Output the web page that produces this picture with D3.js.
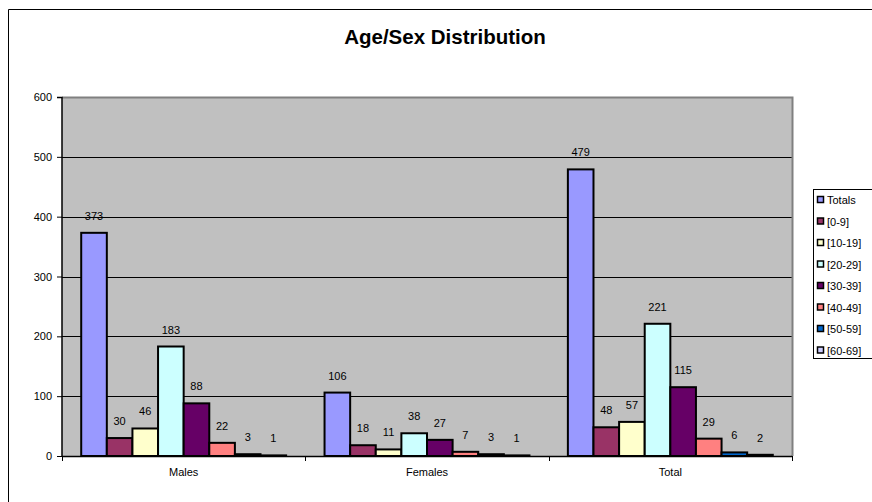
<!DOCTYPE html>
<html>
<head>
<meta charset="utf-8">
<script src="https://cdn.jsdelivr.net/npm/d3@7"></script>
<style>
  html, body { margin: 0; padding: 0; background: #fff; }
  svg { display: block; font-family: Arial, "Liberation Sans", sans-serif; }
</style>
</head>
<body>
<svg id="chart" width="872" height="502"></svg>
<script>
// Age groups by sex
const categories = ["Males", "Females", "Total"];
const seriesNames = ["Totals", "[0-9]", "[10-19]", "[20-29]", "[30-39]", "[40-49]", "[50-59]", "[60-69]"];
const malesValues   = [373, 30, 46, 183, 88, 22, 3, 1];
const femalesValues = [106, 18, 11, 38, 27, 7, 3, 1];
const totalValues   = [479, 48, 57, 221, 115, 29, 6, 2];
const yTicks = [0, 100, 200, 300, 400, 500, 600];
const seriesColors = ["#9999FF", "#993366", "#FFFFCC", "#CCFFFF", "#660066", "#FF8080", "#0066CC", "#CCCCFF"];

const valuesByCategory = [malesValues, femalesValues, totalValues];

const svg = d3.select("#chart");

// chart frame (top and left edges visible)
svg.append("path")
  .attr("d", "M8.5,502 V9.5 H872")
  .attr("fill", "none").attr("stroke", "#000").attr("stroke-width", 1);

// title
svg.append("text")
  .attr("x", 445).attr("y", 44)
  .attr("text-anchor", "middle")
  .attr("font-size", 20.5).attr("font-weight", "bold")
  .text("Age/Sex Distribution");

const plot = { left: 62, top: 97, right: 792, bottom: 456 };

const x0 = d3.scaleBand().domain(categories).range([plot.left, plot.right]).paddingInner(0).paddingOuter(0);
// 150% gap between clusters
const x1 = d3.scaleBand().domain(seriesNames).range([0, x0.bandwidth()]).paddingOuter(0.75).paddingInner(0);
const y = d3.scaleLinear().domain([0, 600]).range([plot.bottom, plot.top]);

// plot background
svg.append("rect")
  .attr("x", plot.left).attr("y", plot.top)
  .attr("width", plot.right - plot.left).attr("height", plot.bottom - plot.top)
  .attr("fill", "#C0C0C0");

// gridlines
svg.append("g").selectAll("line")
  .data(yTicks.filter(d => d > 0))
  .join("line")
  .attr("x1", plot.left).attr("x2", plot.right)
  .attr("y1", d => Math.round(y(d)) + 0.5).attr("y2", d => Math.round(y(d)) + 0.5)
  .attr("stroke", "#000").attr("stroke-width", 1);

// plot border (top and right)
svg.append("path")
  .attr("d", `M${plot.left},${plot.top + 0.5} H${plot.right + 0.5} V${plot.bottom}`)
  .attr("fill", "none").attr("stroke", "#808080").attr("stroke-width", 2);

// bars
const groups = svg.append("g").selectAll("g")
  .data(categories.map((c, i) => ({ c, vals: valuesByCategory[i] })))
  .join("g")
  .attr("transform", d => `translate(${x0(d.c)},0)`);

groups.selectAll("rect")
  .data(d => d.vals.map((v, j) => ({ name: seriesNames[j], v, j })))
  .join("rect")
  .attr("x", d => x1(d.name))
  .attr("width", x1.bandwidth())
  .attr("y", d => y(d.v))
  .attr("height", d => y(0) - y(d.v))
  .attr("fill", d => seriesColors[d.j])
  .attr("stroke", "#000").attr("stroke-width", 2);

// value labels
groups.selectAll("text")
  .data(d => d.vals.map((v, j) => ({ name: seriesNames[j], v, j })))
  .join("text")
  .attr("x", d => x1(d.name) + x1.bandwidth() / 2)
  .attr("y", d => y(d.v) - 13)
  .attr("text-anchor", "middle")
  .attr("font-size", 11).attr("fill", "#000")
  .text(d => d.v);

// y axis
const yAxis = svg.append("g")
  .attr("transform", `translate(${plot.left},0)`)
  .call(d3.axisLeft(y).tickValues(yTicks).tickSize(5).tickPadding(5));
yAxis.selectAll("text").attr("font-size", 11).attr("fill", "#000").attr("font-family", "Arial, 'Liberation Sans', sans-serif");
yAxis.selectAll("line").attr("stroke", "#000");
yAxis.select(".domain").attr("stroke", "#000").attr("stroke-width", 1.5).attr("d", `M-5,${plot.top}.5H0V${plot.bottom}`);

// x axis
const xAxis = svg.append("g")
  .attr("transform", `translate(0,${plot.bottom})`)
  .call(d3.axisBottom(x0).tickSize(0).tickPadding(12));
xAxis.select(".domain").attr("stroke", "#000").attr("stroke-width", 1.5).attr("d", `M${plot.left},0.5H${plot.right}`);
xAxis.selectAll("text").attr("font-size", 11).attr("fill", "#000").attr("font-family", "Arial, 'Liberation Sans', sans-serif");
// category separators
xAxis.append("g").selectAll("line")
  .data(categories.map(c => x0(c)).concat([plot.right]))
  .join("line")
  .attr("x1", d => Math.round(d) + 0.5).attr("x2", d => Math.round(d) + 0.5)
  .attr("y1", 0).attr("y2", 5)
  .attr("stroke", "#000");

// legend
const legend = svg.append("g");
legend.append("rect")
  .attr("x", 813.5).attr("y", 189.5).attr("width", 70).attr("height", 169)
  .attr("fill", "#fff").attr("stroke", "#000").attr("stroke-width", 1);
const items = legend.selectAll("g.item")
  .data(seriesNames)
  .join("g").attr("class", "item")
  .attr("transform", (d, i) => `translate(817,${200 + i * 21.5})`);
items.append("rect")
  .attr("x", 0.5).attr("y", -3.5).attr("width", 6).attr("height", 6)
  .attr("fill", (d, i) => seriesColors[i])
  .attr("stroke", "#000").attr("stroke-width", 1.5);
items.append("text")
  .attr("x", 10).attr("y", 4)
  .attr("font-size", 11).attr("fill", "#000")
  .text(d => d);
</script>
</body>
</html>
